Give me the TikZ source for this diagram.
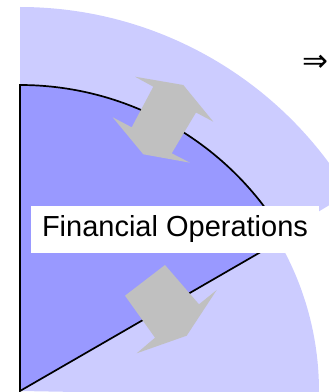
\documentclass[tikz,border=0pt]{standalone}
\usepackage{fontspec}
\setmainfont{Liberation Sans}
\newfontfamily\arrowfont{DejaVu Sans}
\usetikzlibrary{calc}
\definecolor{rimlight}{HTML}{CCCCFF}
\definecolor{coredark}{HTML}{9999FF}
\definecolor{flowgray}{HTML}{C0C0C0}
\tikzset{
  rim/.style={fill=rimlight},
  core/.style={draw=black, fill=coredark, line width=1.7pt, line join=miter},
  flow/.style={fill=flowgray},
  tagbox/.style={fill=white, inner xsep=11pt, inner ysep=0pt,
                 minimum width=286pt, minimum height=47pt,
                 font=\fontsize{29}{34}\selectfont},
  sym/.style={inner sep=0pt, font=\arrowfont\fontsize{31}{31}\selectfont},
}

\begin{document}
\begin{tikzpicture}[x=1pt,y=1pt]
  \useasboundingbox (0,0) rectangle (329,392);
  \coordinate (o) at (20,1);
  % outer bands
  \fill[rim] (o) -- ++(31:384pt) arc[start angle=31, end angle=90, radius=384pt] -- cycle;
  \fill[rim] (o) -- ++(-1:299pt) arc[start angle=-1, end angle=31, radius=299pt] -- cycle;
  % inner sector
  \draw[core] (o) -- ++(30:306pt) arc[start angle=30, end angle=90, radius=306pt] -- cycle;
  % exchange arrows
  \fill[flow] (135,315.3) -- (183.3,307) -- (213.3,270.3) -- (196,279.5) -- (171.7,238.7)
    -- (190,229.3) -- (143.3,237.7) -- (112.7,274.7) -- (131.7,264.7) -- (153.3,305.3) -- cycle;
  \fill[flow] (165,127) -- (125,96.3) -- (155,54.3) -- (136.7,38.7) -- (186.7,56.3)
    -- (216.7,102) -- (199,87.7) -- cycle;
  \node[tagbox] (ops) at (175,162.5) {Financial Operations};
  \node[sym] (next) at (315.5,328.5) {⇒};
\end{tikzpicture}
\end{document}
